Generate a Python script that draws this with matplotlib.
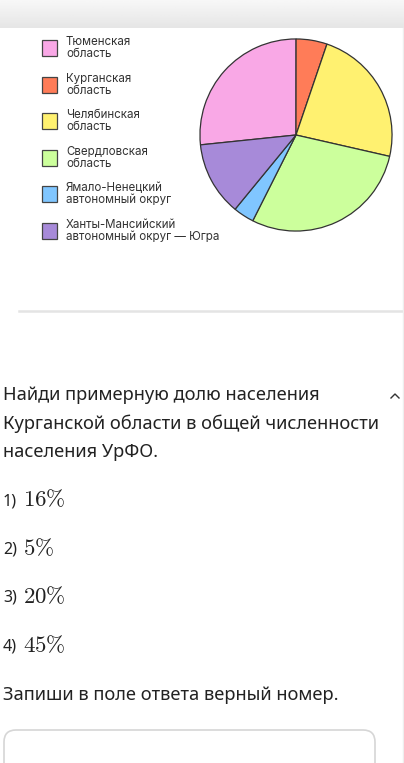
import numpy as np
import matplotlib
matplotlib.use('Agg')
import matplotlib.pyplot as plt
from matplotlib.patches import Rectangle, FancyBboxPatch

plt.rcParams['mathtext.fontset'] = 'cm'

regions = ['Тюменская\nобласть', 'Курганская\nобласть', 'Челябинская\nобласть',
           'Свердловская\nобласть', 'Ямало-Ненецкий\nавтономный округ',
           'Ханты-Мансийский\nавтономный округ — Югра']
shares = [26.6, 5.2, 23.3, 28.8, 3.5, 12.4]
colors = ['#f9a8e6', '#ff7c58', '#fff170', '#ccff9c', '#80c6ff', '#a78ad9']

question = ['Найди примерную долю населения',
            'Курганской области в общей численности',
            'населения УрФО.']
options = ['16', '5', '20', '45']
footer = 'Запиши в поле ответа верный номер.'

W, H = 404, 763
fig = plt.figure(figsize=(W / 100, H / 100), dpi=100)
bg = fig.add_axes([0, 0, 1, 1])
bg.set_xlim(0, W)
bg.set_ylim(H, 0)
bg.axis('off')

# grey strip at the top
grad = np.linspace(0.97, 0.90, 50).reshape(-1, 1)
bg.imshow(grad, cmap='gray', vmin=0, vmax=1, extent=[0, W, 28, 0], aspect='auto')

# pie
cx, cy, r = 296, 135, 97
pax = fig.add_axes([(cx - r) / W, (H - cy - r) / H, 2 * r / W, 2 * r / H])
pax.pie(shares, colors=colors, startangle=185.9, counterclock=False,
        wedgeprops=dict(edgecolor='#333333', linewidth=0.9))
pax.set_xlim(-1.01, 1.01)
pax.set_ylim(-1.01, 1.01)
pax.axis('off')

# legend
for i, (lab, c) in enumerate(zip(regions, colors)):
    y0 = 40 + i * 36.6
    bg.add_patch(Rectangle((42, y0), 15, 16, facecolor=c, edgecolor='#444444', lw=0.9))
    bg.text(66, y0 + 8, lab, fontsize=8.3, family='Inter', color='#333333',
            va='center', ha='left', linespacing=0.98)

# separator
bg.plot([19, W], [310.5, 310.5], color='#e4e4e4', lw=1.8)

qfont = dict(family='Noto Sans', color='#222222', fontsize=13.2)
for i, line in enumerate(question):
    bg.text(3, 395 + i * 28.5, line, va='center', ha='left', **qfont)
bg.plot([391, 395, 399], [398, 394, 398], color='#333333', lw=1.0)

for i, v in enumerate(options):
    y = 500 + i * 48.5
    bg.text(3, y + 1, f'{i + 1})', va='center', ha='left', family='Noto Sans',
            fontsize=11.5, color='#222222')
    bg.text(23, y, r'$%s\%%$' % v, va='center', ha='left', fontsize=16.5, color='#222222')

bg.text(3, 695, footer, va='center', ha='left', **qfont)

bg.add_patch(FancyBboxPatch((4, 730), 371, 60, boxstyle='round,pad=0,rounding_size=12',
                            facecolor='white', edgecolor='#d6d6d6', lw=1.2))
bg.plot([W - 1, W - 1], [28, H], color='#eeeeee', lw=1)

fig.savefig('out.png', dpi=100)
